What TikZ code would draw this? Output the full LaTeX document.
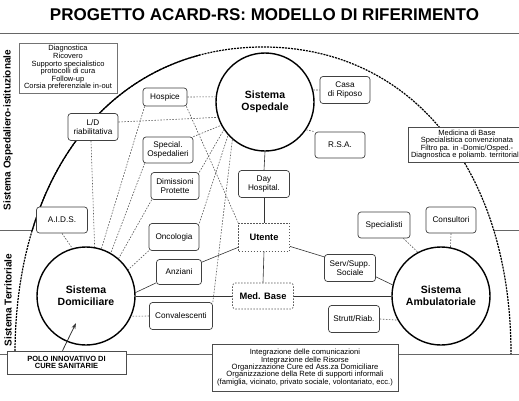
\documentclass[tikz,border=0pt]{standalone}
\usepackage{fontspec}
\setmainfont{Liberation Sans}
\usetikzlibrary{calc,arrows.meta}
\begin{document}
\begin{tikzpicture}[x=1pt,y=-1pt,
  bx/.style={draw=black!75, line width=0.7pt, rounded corners=3pt, fill=white, align=center, inner sep=1pt, font=\fontsize{8.2}{9}\selectfont},
  sys/.style={circle, draw=black, line width=1.4pt, fill=white, minimum size=98pt, inner sep=0pt, align=center, font=\bfseries\fontsize{10.5}{12}\selectfont},
  dl/.style={draw=black!65, line width=0.6pt, dash pattern=on 1.6pt off 1.4pt},
  sl/.style={draw=black!80, line width=0.6pt},
  info/.style={draw=black!70, line width=0.6pt, fill=white, align=center, inner sep=1pt, font=\fontsize{7.5}{7.6}\selectfont},
  hl/.style={draw=black!60, line width=0.8pt},
  side/.style={rotate=90, inner sep=0pt, font=\bfseries\fontsize{10}{12}\selectfont},
  dbox/.style={draw=black!65, dash pattern=on 1.5pt off 1.5pt, line width=0.7pt, fill=white, font=\bfseries\fontsize{9.3}{11}\selectfont},
]
\useasboundingbox (0,0) rectangle (519,400);
\clip (0,0) rectangle (519,400);

% horizontal rules
\draw[hl] (0,33) -- (519,33);
\draw[hl] (0,230) -- (519,230);
% dome
\fill[white] (15,354) .. controls (15,170) and (114,47) .. (263,47) .. controls (412,47) and (511,170) .. (511,354) -- cycle;
\draw[hl] (0,354) -- (519,354);
\draw[line width=1.2pt, dash pattern=on 2pt off 1pt] (15,354) .. controls (15,170) and (114,47) .. (263,47) .. controls (412,47) and (511,170) .. (511,354);
\begin{scope}
  \clip (0,0) rectangle (200,230);
  \draw[line width=1.2pt] (15,354) .. controls (15,170) and (114,47) .. (263,47);
\end{scope}

% title and side labels
\node[font=\bfseries\fontsize{17}{20}\selectfont] (title) at (264.5,15) {PROGETTO ACARD-RS: MODELLO DI RIFERIMENTO};
\node[side] (lab1) at (8,130) {Sistema Ospedaliero-istituzionale};
\node[side] (lab2) at (8,300) {Sistema Territoriale};

% info boxes
\node[info, draw=black!55, minimum width=98pt, minimum height=50pt] (diag) at (68,68) {Diagnostica\\Ricovero\\Supporto specialistico\\protocolli di cura\\Follow-up\\Corsia preferenziale in-out};
\node[info, minimum width=118pt, minimum height=35pt] (medb) at (467,144.5) {Medicina di Base\\Specialistica convenzionata\\Filtro pa. in -Domic/Osped.-\\Diagnostica e poliamb. territoriale};
\node[info, font=\fontsize{7.6}{7.4}\selectfont, minimum width=186pt, minimum height=47pt] (integ) at (305,367.5) {Integrazione delle comunicazioni\\Integrazione delle Risorse\\Organizzazione Cure ed Ass.za Domiciliare\\Organizzazione della Rete di supporti informali\\(famiglia, vicinato, privato sociale, volontariato, ecc.)};
\node[info, font=\bfseries\fontsize{7.5}{7.7}\selectfont, minimum width=119pt, minimum height=23pt] (polo) at (66.5,362.5) {POLO INNOVATIVO DI\\CURE SANITARIE};

% systems
\node[sys] (osp) at (265,102) {Sistema\\Ospedale};
\node[sys] (dom) at (86,296) {Sistema\\Domiciliare};
\node[sys] (amb) at (441,296) {Sistema\\Ambulatoriale};

% boxes
\node[bx, minimum width=44pt, minimum height=18pt] (hos) at (165,97) {Hospice};
\node[bx, minimum width=50pt, minimum height=27pt] (ld) at (93,127) {L/D\\riabilitativa};
\node[bx, minimum width=50pt, minimum height=26pt] (spec) at (168,150) {Special.\\Ospedalieri};
\node[bx, minimum width=48pt, minimum height=27pt] (dim) at (175,186) {Dimissioni\\Protette};
\node[bx, minimum width=51pt, minimum height=27pt] (dh) at (264,184) {Day\\Hospital.};
\node[bx, minimum width=50pt, minimum height=27pt] (casa) at (345,90) {Casa\\di Riposo};
\node[bx, minimum width=50pt, minimum height=26pt] (rsa) at (340,145) {R.S.A.};
\node[bx, minimum width=51pt, minimum height=26pt] (aids) at (62,220) {A.I.D.S.};
\node[bx, minimum width=50pt, minimum height=27pt] (onc) at (174,237) {Oncologia};
\node[bx, minimum width=45pt, minimum height=25pt] (anz) at (179,272) {Anziani};
\node[bx, minimum width=63pt, minimum height=27pt] (conv) at (181,316) {Convalescenti};
\node[bx, minimum width=52pt, minimum height=26pt] (spl) at (384,225) {Specialisti};
\node[bx, minimum width=50pt, minimum height=26pt] (cons) at (451,220) {Consultori};
\node[bx, minimum width=51pt, minimum height=27pt] (serv) at (350,268) {Serv/Supp.\\Sociale};
\node[bx, minimum width=51pt, minimum height=27pt] (str) at (354,319) {Strutt/Riab.};
\node[dbox, minimum width=51pt, minimum height=28pt] (ut) at (264,237) {Utente};
\node[dbox, rounded corners=3pt, minimum width=61pt, minimum height=26pt] (mb) at (263,296) {Med. Base};

% connectors to Sistema Ospedale
\draw[dl] (hos.east) -- (osp.174);
\draw[dl] ($(ld.east)+(0,-5)$) -- (osp.198);
\draw[dl] (spec.north east) -- (osp.208);
\draw[dl] (dim.north east) -- (osp.214);
\draw[dl] (onc.north east) -- (osp.222);
\draw[dl] (conv.north east) -- (osp.229);
\draw[dl] (osp.14) -- (casa.west);
\draw[dl] (osp.326) -- (rsa.north west);
\draw[sl] (osp.south) -- (dh.north);
\draw[sl] (dh.south) -- (ut.north);
\draw[sl] (ut.south) -- (mb.north);
% connectors to Sistema Domiciliare
\draw[dl] ($(hos.south west)+(2,0)$) -- (dom.72);
\draw[dl] ($(hos.south east)+(-1,0)$) -- (ut.north west);
\draw[dl] ($(ld.south)+(-2,0)$) -- (dom.80);
\draw[dl] ($(spec.south west)+(2,0)$) -- (dom.60);
\draw[dl] ($(dim.south west)+(1,0)$) -- (dom.49);
\draw[dl] (onc.south west) -- (dom.32);
\draw[dl] (aids.south) -- (dom.106);
\draw[sl] ($(anz.south west)+(0,-2)$) -- (dom.4);
\draw[sl] ($(anz.north east)+(0,3)$) -- ($(ut.south west)+(0,-4)$);
\draw[sl] (dom.east) -- (mb.west);
\draw[dl] (conv.west) -- (dom.336);
% connectors to Sistema Ambulatoriale
\draw[sl] (mb.east) -- (amb.west);
\draw[sl] ($(ut.south east)+(0,-5)$) -- ($(serv.north west)+(1,3)$);
\draw[sl] ($(serv.south east)+(0,-5)$) -- (amb.167);
\draw[dl] ($(spl.south east)+(-7,0)$) -- (amb.118);
\draw[dl] (cons.south) -- (amb.79);
\draw[dl] (str.east) -- (amb.209);
% arrow from Polo
\coordinate (tip) at (76,323);
\draw[sl, line width=0.8pt, -{Stealth[length=6pt,width=4pt]}] ($(polo.north)+(-4,0)$) -- (tip);
\end{tikzpicture}
\end{document}
